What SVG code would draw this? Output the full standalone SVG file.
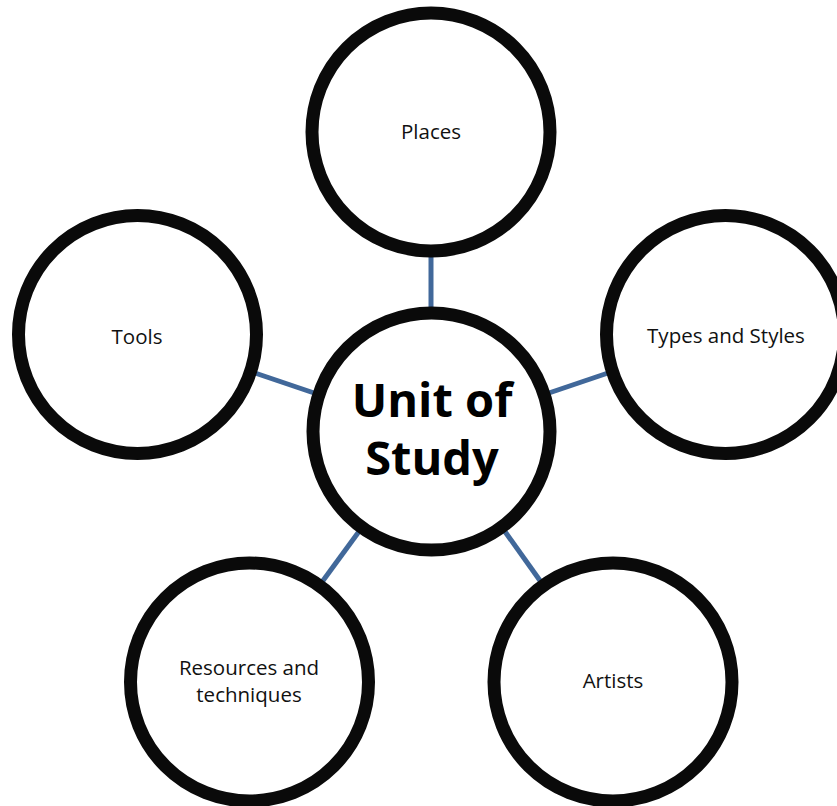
<svg xmlns="http://www.w3.org/2000/svg" width="837" height="806" viewBox="0 0 837 806">
  <style>
    .ring { fill: #ffffff; stroke: #0a0a0a; stroke-width: 13; }
    .link { stroke: #41689a; stroke-width: 5; fill: none; }
    .label { font-family: "Open Sans", "Liberation Sans", sans-serif; font-size: 20.5px; fill: #111111; text-anchor: middle; }
    .hub { font-family: "Open Sans", "Liberation Sans", sans-serif; font-size: 47px; font-weight: bold; fill: #000000; text-anchor: middle; }
  </style>
  <rect width="837" height="806" fill="#ffffff"/>

  <!-- spokes from the hub to each topic -->
  <g id="connectors">
    <line class="link" x1="431" y1="255" x2="431" y2="309"/>
    <line class="link" x1="255" y1="373" x2="320" y2="395"/>
    <line class="link" x1="543" y1="395" x2="608" y2="373"/>
    <line class="link" x1="322" y1="582" x2="363" y2="526"/>
    <line class="link" x1="501" y1="526" x2="541" y2="582"/>
  </g>

  <g id="hub">
    <circle class="ring" cx="431.5" cy="431.5" r="118.5"/>
    <text class="hub" x="432" y="417">Unit of</text>
    <text class="hub" x="432" y="475">Study</text>
  </g>

  <g id="places">
    <circle class="ring" cx="431" cy="132" r="119"/>
    <text class="label" x="431" y="139">Places</text>
  </g>

  <g id="tools">
    <circle class="ring" cx="137.5" cy="334.5" r="119"/>
    <text class="label" x="137" y="344">Tools</text>
  </g>

  <g id="types-and-styles">
    <circle class="ring" cx="725.5" cy="334.5" r="119"/>
    <text class="label" x="726" y="343">Types and Styles</text>
  </g>

  <g id="resources">
    <circle class="ring" cx="249.5" cy="682" r="119"/>
    <text class="label" x="249" y="675">Resources and</text>
    <text class="label" x="249" y="702">techniques</text>
  </g>

  <g id="artists">
    <circle class="ring" cx="613" cy="682" r="119"/>
    <text class="label" x="613" y="688">Artists</text>
  </g>
</svg>
